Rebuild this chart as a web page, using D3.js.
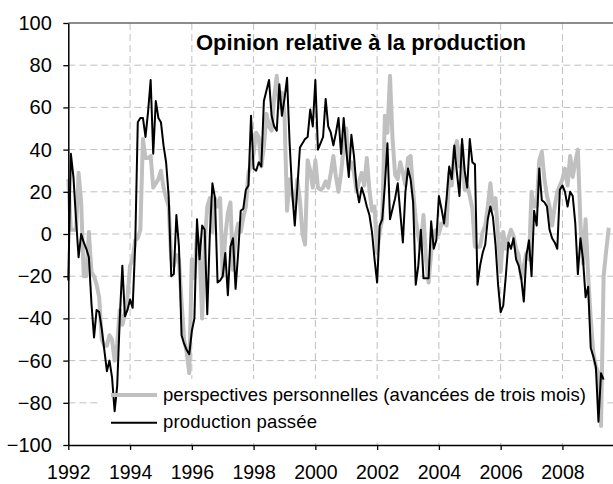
<!DOCTYPE html>
<html>
<head>
<meta charset="utf-8">
<script src="https://cdn.jsdelivr.net/npm/d3@7"></script>
<style>
  body { margin: 0; background: #fff; }
  svg { display: block; font-family: "Liberation Sans", Arial, sans-serif; }
</style>
</head>
<body>
<div id="chart"></div>
<script>
// monthly values, first point = January 1992
var startYear = 1992;

var perspectives = [
    26, 2, 2, 2, 29, 15, -20, -20, 1, -18, -20, -24,          // 1992
    -30, -50, -53, -53, -48, -50, -60, -52, -36, -43, -38, -30, // 1993
    -15, -12, -3, -2, 2, 45, 36, 36, 37, 22, 24, 26,           // 1994
    30, 22, 17, 13, -12, -15, -10, -12, -32, -50, -56, -66,    // 1995
    -12, -21, 0, -8, -40, -5, 13, 17, 1, 17, 13, 17,           // 1996
    -20, -1, 10, 15, -17, -1, 5, 1, 8, 13, 29, 33,             // 1997
    38, 48, 46, 32, 41, 57, 51, 49, 65, 75, 60, 67,            // 1998
    57, 11, 26, 19, 13, 26, 16, 0, -5, 35, 30, 22,             // 1999
    35, 22, 21, 22, 25, 22, 29, 37, 27, 20, 29, 41,            // 2000
    50, 31, 34, 29, 20, 25, 29, 23, 36, 21, 11, 13,            // 2001
    -9, 1, 7, 56, 48, 75, 45, 28, 26, 34, 29, 23,              // 2002
    36, 37, 20, 7, -1, -7, 9, -12, -23, -9, 1, 2,              // 2003
    0, 5, 5, 4, 29, 23, 40, 44, 32, 42, 21, 23,                // 2004
    18, 12, -6, -6, -6, 1, 4, 13, 24, 12, 17, -1,              // 2005
    -18, 1, -7, -2, 2, -1, -7, -10, -21, -15, -9, -12,         // 2006
    20, 13, 13, 35, 39, 26, 18, 13, 4, 13, 20, 23,             // 2007
    26, 31, 23, 37, 27, 34, 40, 5, -14, 7, -20, -40,           // 2008
    -56, -63, -66, -91, -20, -8, 3                             // 2009
];

var productionPassee = [
    -22, 38, 27, 7, -11, 0, -4, -7, -11, -33, -49, -36,        // 1992
    -37, -45, -55, -65, -60, -68, -84, -72, -40, -15, -39, -36, // 1993
    -31, -35, -5, 53, 55, 55, 46, 58, 73, 38, 63, 55,          // 1994
    53, 42, 34, 18, -20, -19, 9, -6, -48, -52, -55, -57,       // 1995
    -46, -40, 7, -12, 4, 2, -38, 0, 24, 17, -23, -22,          // 1996
    -20, -9, -29, -6, -2, -26, -9, 11, 12, 21, 23, 56,         // 1997
    31, 30, 34, 32, 63, 68, 73, 56, 51, 49, 71, 56,            // 1998
    64, 74, 43, 20, 4, 22, 41, 43, 45, 46, 59, 51,             // 1999
    73, 40, 43, 46, 64, 51, 48, 42, 48, 55, 38, 55,            // 2000
    40, 27, 47, 37, 22, 15, 22, 18, 13, 9, 1, -12,             // 2001
    -23, 4, 7, 23, 43, 7, 12, 17, 24, 10, -4, 20,              // 2002
    31, 26, 15, -24, -15, 2, -21, -21, -21, 6, -7, -3,         // 2003
    18, 12, 5, 17, 32, 26, 42, 29, 18, 45, 30, 22,             // 2004
    45, 34, 33, -24, -15, -9, -5, 7, 13, 8, -5, -24,           // 2005
    -37, -34, -20, -4, -7, -2, -12, -15, -21, -32, -10, -3,    // 2006
    -20, 11, 4, 31, 16, 15, 13, 2, -2, -4, -7, 21,             // 2007
    23, 20, 13, 20, 18, 5, -19, -2, -12, -30, -25, -54,        // 2008
    -58, -63, -89, -66, -69                                    // 2009
];

var yTicks = [-100, -80, -60, -40, -20, 0, 20, 40, 60, 80, 100];
var xTicks = [1992, 1994, 1996, 1998, 2000, 2002, 2004, 2006, 2008];
var seriesNames = ["perspectives personnelles (avancées de trois mois)", "production passée"];
var chartTitle = "Opinion relative à la production";

var width = 613,
    height = 484;

var x = d3.scaleLinear().domain([1992, 2009.67]).range([68.3, 614]);
var y = d3.scaleLinear().domain([-100, 100]).range([445, 23]);

var svg = d3.select("#chart").append("svg")
    .attr("width", width)
    .attr("height", height);

svg.append("rect").attr("width", width).attr("height", height).attr("fill", "#fff");

// dashed grid
svg.append("g").selectAll("line")
    .data(yTicks.filter(function (d) { return d > -100 && d < 100; }))
    .enter().append("line")
    .attr("x1", x.range()[0]).attr("x2", x.range()[1])
    .attr("y1", function (d) { return y(d); }).attr("y2", function (d) { return y(d); })
    .attr("stroke", "#c0c0c0").attr("stroke-dasharray", "7,4");

svg.append("g").selectAll("line")
    .data(xTicks.slice(1))
    .enter().append("line")
    .attr("x1", function (d) { return x(d); }).attr("x2", function (d) { return x(d); })
    .attr("y1", y(100)).attr("y2", y(-100))
    .attr("stroke", "#c0c0c0").attr("stroke-dasharray", "7,4");

// top border of the plot area
svg.append("line")
    .attr("x1", x.range()[0]).attr("x2", x.range()[1])
    .attr("y1", y(100)).attr("y2", y(100))
    .attr("stroke", "#666").attr("stroke-width", 1.3);

// legend box hides the grid underneath
svg.append("rect")
    .attr("x", 101).attr("y", 379).attr("width", 497).attr("height", 64)
    .attr("fill", "#fff");

var line = d3.line()
    .x(function (d, i) { return x(startYear + i / 12); })
    .y(function (d) { return y(d); });

svg.append("path")
    .datum(perspectives)
    .attr("d", line)
    .attr("fill", "none")
    .attr("stroke", "#c0c0c0")
    .attr("stroke-width", 4)
    .attr("stroke-linejoin", "round");

svg.append("path")
    .datum(productionPassee)
    .attr("d", line)
    .attr("fill", "none")
    .attr("stroke", "#000")
    .attr("stroke-width", 2)
    .attr("stroke-linejoin", "round");

// axes
var yAxis = svg.append("g")
    .attr("transform", "translate(" + x.range()[0] + ",0)")
    .call(d3.axisLeft(y).tickValues(yTicks).tickSize(5).tickSizeOuter(0).tickPadding(11.5));

var xAxis = svg.append("g")
    .attr("transform", "translate(0," + y(-100) + ")")
    .call(d3.axisBottom(x).tickValues(xTicks).tickFormat(d3.format("d"))
        .tickSize(5).tickSizeOuter(0).tickPadding(16));

[yAxis, xAxis].forEach(function (g) {
    g.select(".domain").attr("stroke", "#000").attr("stroke-width", 1.5);
    g.selectAll(".tick line").attr("stroke", "#000").attr("stroke-width", 1.3);
    g.selectAll(".tick text")
        .attr("fill", "#000")
        .style("font-size", "20px")
        .style("font-family", "'Liberation Sans', Arial, sans-serif");
});
xAxis.selectAll(".tick text").style("font-size", "19.5px").attr("dy", "0.68em");

// legend
var legend = svg.append("g");
var legendRows = [
    { name: seriesNames[0], color: "#c0c0c0", w: 4, ly: 395, ty: 400.5, len: 423 },
    { name: seriesNames[1], color: "#000", w: 2, ly: 422.7, ty: 427.5, len: 154 }
];
legendRows.forEach(function (r) {
    legend.append("line")
        .attr("x1", 111).attr("x2", 157)
        .attr("y1", r.ly).attr("y2", r.ly)
        .attr("stroke", r.color).attr("stroke-width", r.w);
    legend.append("text")
        .attr("x", 163).attr("y", r.ty)
        .attr("textLength", r.len).attr("lengthAdjust", "spacing")
        .style("font-size", "18.5px")
        .text(r.name);
});

// title
svg.append("text")
    .attr("x", 361).attr("y", 50)
    .attr("text-anchor", "middle")
    .style("font-size", "22px")
    .style("font-weight", "bold")
    .text(chartTitle);
</script>
</body>
</html>
